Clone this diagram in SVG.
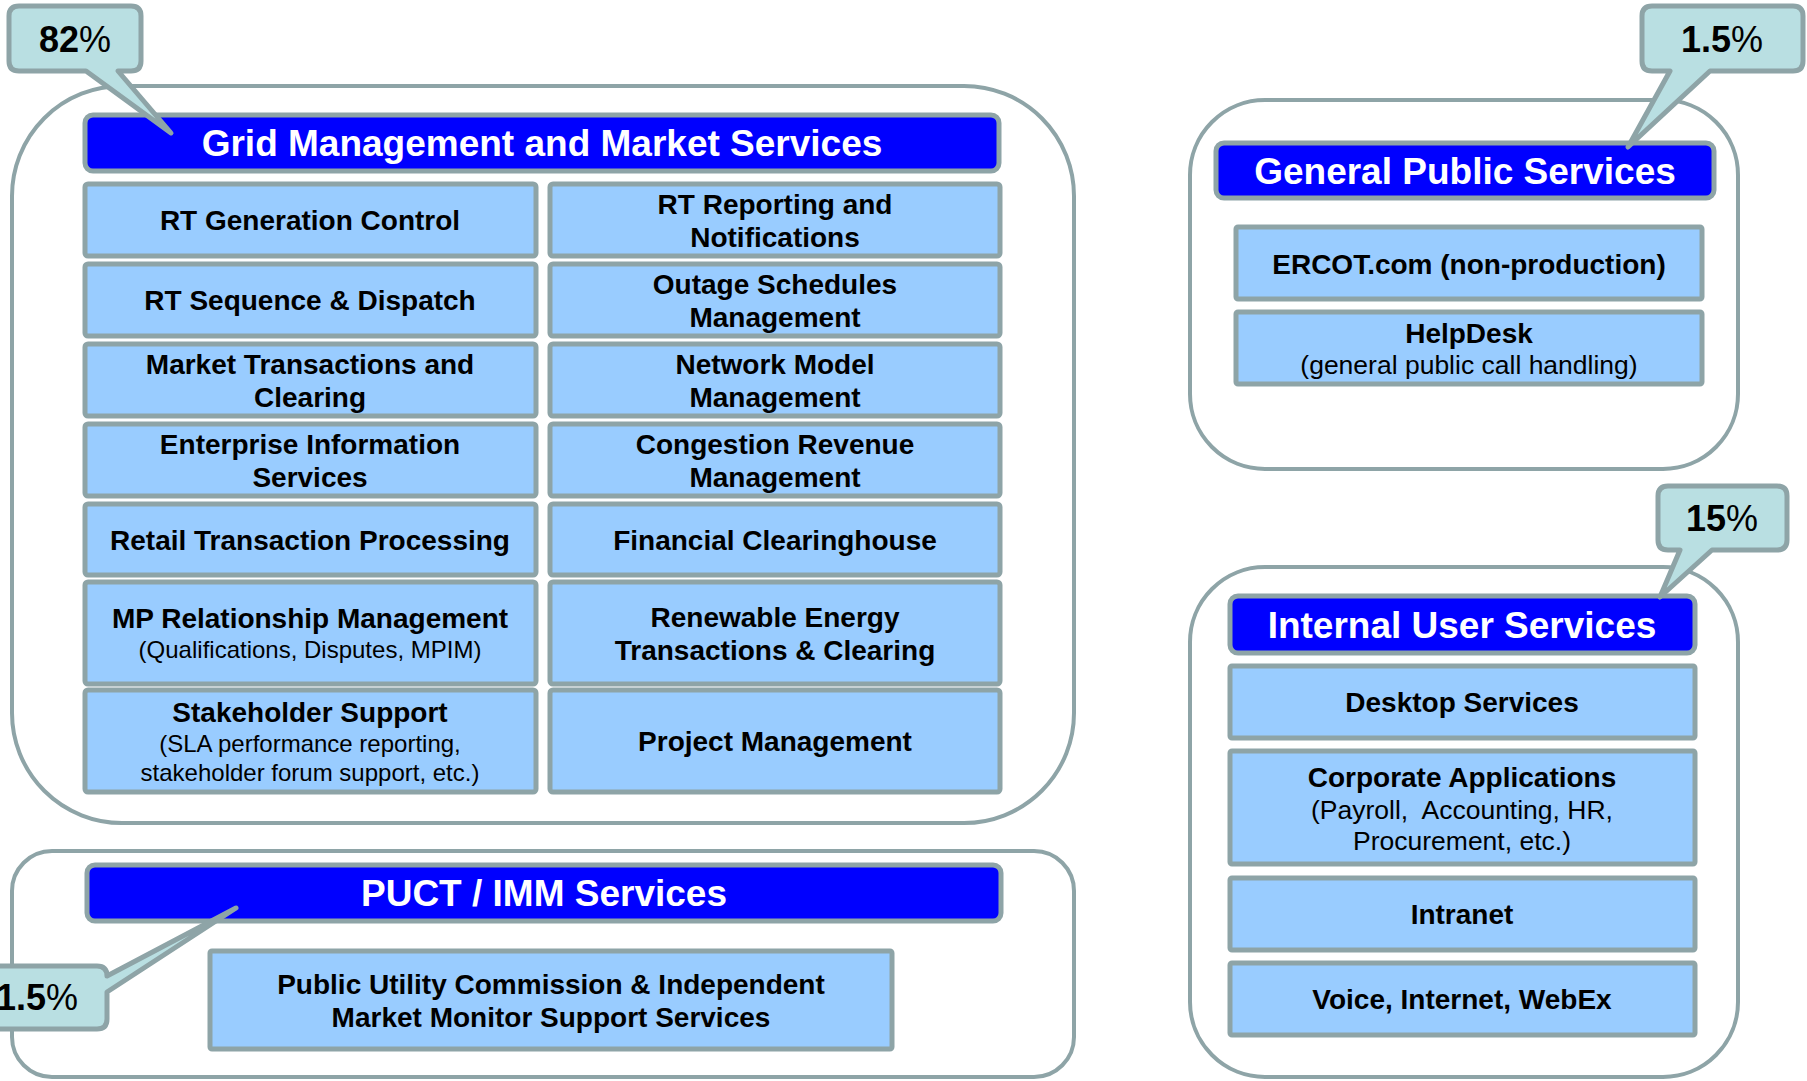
<svg xmlns="http://www.w3.org/2000/svg" width="1807" height="1081" viewBox="0 0 1807 1081">
<style>
.container{fill:#ffffff;stroke:#8ea4a7;stroke-width:4}
.hdr{fill:#0000ff;stroke:#8ea4a7;stroke-width:5}
.box{fill:#99ccff;stroke:#8ea4a7;stroke-width:5}
.callout{fill:#b9dfe2;stroke:#8ea4a7;stroke-width:5;stroke-linejoin:round}
text{font-family:"Liberation Sans",Arial,sans-serif;text-anchor:middle}
.ht{font-size:37px;font-weight:bold;fill:#ffffff}
.bt{font-size:28px;font-weight:bold;fill:#000000}
.st{font-size:24px;font-weight:normal;fill:#000000}
.sl{font-size:26.5px;font-weight:normal;fill:#000000}
.ct{font-size:36px;font-weight:bold;fill:#000000}
.pc{font-weight:normal}
</style>
<rect width="1807" height="1081" fill="#ffffff"/>

<g id="grid-management">
<rect class="container" x="12" y="86" width="1062" height="737" rx="110" ry="110"/>
<rect class="hdr" x="85" y="115" width="914" height="56" rx="8"/>
<text class="ht" x="542" y="156">Grid Management and Market Services</text>
</g>

<g id="rt-generation-control"><rect class="box" x="85" y="184" width="451" height="72" rx="3"/><text class="bt" x="310" y="230">RT Generation Control</text></g>
<g id="rt-reporting"><rect class="box" x="550" y="184" width="450" height="72" rx="3"/><text class="bt" x="775" y="213.5">RT Reporting and</text><text class="bt" x="775" y="246.5">Notifications</text></g>
<g id="rt-sequence"><rect class="box" x="85" y="264" width="451" height="72" rx="3"/><text class="bt" x="310" y="310">RT Sequence &amp; Dispatch</text></g>
<g id="outage-schedules"><rect class="box" x="550" y="264" width="450" height="72" rx="3"/><text class="bt" x="775" y="293.5">Outage Schedules</text><text class="bt" x="775" y="326.5">Management</text></g>
<g id="market-transactions"><rect class="box" x="85" y="344" width="451" height="72" rx="3"/><text class="bt" x="310" y="373.5">Market Transactions and</text><text class="bt" x="310" y="406.5">Clearing</text></g>
<g id="network-model"><rect class="box" x="550" y="344" width="450" height="72" rx="3"/><text class="bt" x="775" y="373.5">Network Model</text><text class="bt" x="775" y="406.5">Management</text></g>
<g id="enterprise-information"><rect class="box" x="85" y="424" width="451" height="72" rx="3"/><text class="bt" x="310" y="453.5">Enterprise Information</text><text class="bt" x="310" y="486.5">Services</text></g>
<g id="congestion-revenue"><rect class="box" x="550" y="424" width="450" height="72" rx="3"/><text class="bt" x="775" y="453.5">Congestion Revenue</text><text class="bt" x="775" y="486.5">Management</text></g>
<g id="retail-transaction"><rect class="box" x="85" y="504" width="451" height="71" rx="3"/><text class="bt" x="310" y="550">Retail Transaction Processing</text></g>
<g id="financial-clearinghouse"><rect class="box" x="550" y="504" width="450" height="71" rx="3"/><text class="bt" x="775" y="550">Financial Clearinghouse</text></g>
<g id="mp-relationship"><rect class="box" x="85" y="582" width="451" height="102" rx="3"/><text class="bt" x="310" y="628">MP Relationship Management</text><text class="st" x="310" y="658">(Qualifications, Disputes, MPIM)</text></g>
<g id="renewable-energy"><rect class="box" x="550" y="582" width="450" height="102" rx="3"/><text class="bt" x="775" y="626.5">Renewable Energy</text><text class="bt" x="775" y="659.5">Transactions &amp; Clearing</text></g>
<g id="stakeholder-support"><rect class="box" x="85" y="690" width="451" height="102" rx="3"/><text class="bt" x="310" y="722">Stakeholder Support</text><text class="st" x="310" y="752">(SLA performance reporting,</text><text class="st" x="310" y="781">stakeholder forum support, etc.)</text></g>
<g id="project-management"><rect class="box" x="550" y="690" width="450" height="102" rx="3"/><text class="bt" x="775" y="751">Project Management</text></g>

<g id="puct-imm">
<rect class="container" x="12" y="851" width="1062" height="226" rx="40" ry="40"/>
<rect class="hdr" x="87" y="865" width="914" height="56" rx="8"/>
<text class="ht" x="544" y="906">PUCT / IMM Services</text>
</g>
<g id="puct-support"><rect class="box" x="210" y="951" width="682" height="98" rx="2"/><text class="bt" x="551" y="993.5">Public Utility Commission &amp; Independent</text><text class="bt" x="551" y="1026.5">Market Monitor Support Services</text></g>

<g id="general-public">
<rect class="container" x="1190" y="100" width="548" height="369" rx="75" ry="75"/>
<rect class="hdr" x="1216" y="143" width="498" height="55" rx="8"/>
<text class="ht" x="1465" y="183.5">General Public Services</text>
</g>
<g id="ercot-com"><rect class="box" x="1236" y="227" width="466" height="72" rx="2"/><text class="bt" x="1469" y="273.5">ERCOT.com (non-production)</text></g>
<g id="helpdesk"><rect class="box" x="1236" y="312" width="466" height="72" rx="2"/><text class="bt" x="1469" y="343">HelpDesk</text><text class="sl" x="1469" y="374">(general public call handling)</text></g>

<g id="internal-user">
<rect class="container" x="1190" y="567" width="548" height="510" rx="75" ry="75"/>
<rect class="hdr" x="1230" y="596" width="465" height="57" rx="8"/>
<text class="ht" x="1462" y="637.5">Internal User Services</text>
</g>
<g id="desktop-services"><rect class="box" x="1230" y="666" width="465" height="72" rx="2"/><text class="bt" x="1462" y="712">Desktop Services</text></g>
<g id="corporate-applications"><rect class="box" x="1230" y="751" width="465" height="113" rx="2"/><text class="bt" x="1462" y="787">Corporate Applications</text><text class="sl" x="1462" y="819">(Payroll,&#160; Accounting, HR,</text><text class="sl" x="1462" y="850">Procurement, etc.)</text></g>
<g id="intranet"><rect class="box" x="1230" y="878" width="465" height="72" rx="2"/><text class="bt" x="1462" y="924">Intranet</text></g>
<g id="voice-internet"><rect class="box" x="1230" y="963" width="465" height="72" rx="2"/><text class="bt" x="1462" y="1009">Voice, Internet, WebEx</text></g>

<g id="connectors">
<g id="callout-82">
<path class="callout" d="M19,6 H131 Q141,6 141,16 V61 Q141,71 131,71 H118 L171,133 L86,71 H19 Q9,71 9,61 V16 Q9,6 19,6 Z"/>
<text class="ct" x="75" y="52">82<tspan class="pc">%</tspan></text>
</g>
<g id="callout-gps">
<path class="callout" d="M1652,6 H1793 Q1803,6 1803,16 V61 Q1803,71 1793,71 H1710 L1628,147 L1670,71 H1652 Q1642,71 1642,61 V16 Q1642,6 1652,6 Z"/>
<text class="ct" x="1722" y="52">1.5<tspan class="pc">%</tspan></text>
</g>
<g id="callout-ius">
<path class="callout" d="M1668,486 H1777 Q1787,486 1787,496 V540 Q1787,550 1777,550 H1712 L1660,597 L1680,550 H1668 Q1658,550 1658,540 V496 Q1658,486 1668,486 Z"/>
<text class="ct" x="1722" y="531">15<tspan class="pc">%</tspan></text>
</g>
<g id="callout-puct">
<path class="callout" d="M-15,966 H97 Q107,966 107,976 L236,908 L107,992 V1019 Q107,1029 97,1029 H-15 Q-25,1029 -25,1019 V976 Q-25,966 -15,966 Z"/>
<text class="ct" x="78" y="1010" style="text-anchor:end">1.5<tspan class="pc">%</tspan></text>
</g>
</g>
</svg>
